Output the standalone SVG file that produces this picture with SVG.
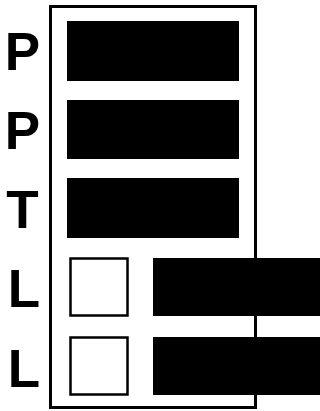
<svg xmlns="http://www.w3.org/2000/svg" width="320" height="411" viewBox="0 0 320 411">
<style>
.lbl{font-family:"Liberation Sans",Arial,sans-serif;font-weight:bold;font-size:53px;fill:#000;text-anchor:middle}
.bar{fill:#000}
.box{fill:#fff;stroke:#000;stroke-width:2.5}
.frame{fill:#fff;stroke:#000;stroke-width:3}
</style>
<rect width="320" height="411" fill="#fff"/>
<g id="frame"><rect class="frame" x="50.5" y="6.5" width="205" height="401"/></g>
<g id="row1"><text class="lbl" x="22.5" y="70">P</text><rect class="bar" x="67" y="21" width="172" height="60"/></g>
<g id="row2"><text class="lbl" x="22.5" y="149">P</text><rect class="bar" x="67" y="100" width="172" height="59"/></g>
<g id="row3"><text class="lbl" x="22.5" y="228">T</text><rect class="bar" x="67" y="178" width="172" height="60"/></g>
<g id="row4"><text class="lbl" x="24" y="307">L</text><rect class="box" x="70.5" y="258.5" width="57" height="57"/><rect class="bar" x="153" y="258" width="167" height="58"/></g>
<g id="row5"><text class="lbl" x="24" y="387">L</text><rect class="box" x="70.5" y="337.5" width="57" height="57"/><rect class="bar" x="153" y="337" width="167" height="58"/></g>
<g id="connectors"></g>
</svg>
